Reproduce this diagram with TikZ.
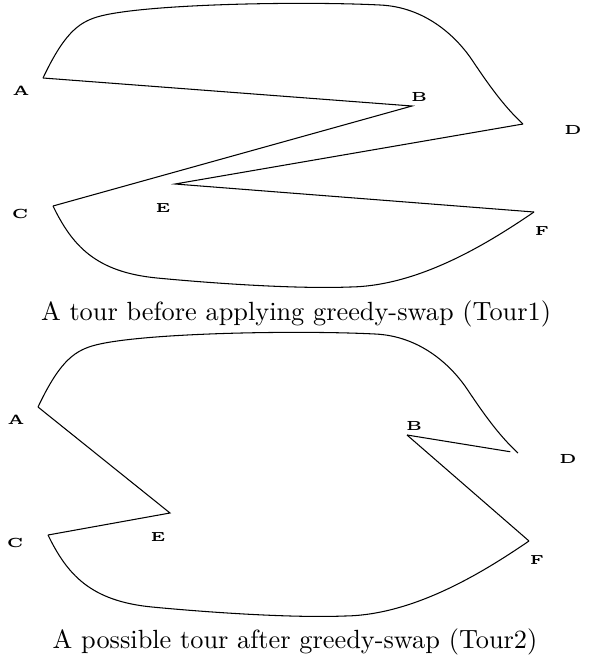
\documentclass[tikz,border=0pt]{standalone}
\usepackage{tikz}

\tikzset{
  city/.style={font=\tiny\bfseries,inner sep=0pt,xscale=1.15,transform shape},
  tourtitle/.style={anchor=base,inner sep=0pt}
}

\begin{document}
\begin{tikzpicture}[x=0.38pt,y=-0.38pt]
 \useasboundingbox (0,0) rectangle (591,658);
 % cities and the two fixed arcs, same in both tours
 \foreach \s/\dx/\dy in {1/0/0,2/-5/329} {
  \begin{scope}[shift={(\dx,\dy)}]
   \coordinate (A\s) at (43,78);
   \coordinate (B\s) at (412,106);
   \coordinate (C\s) at (53,206);
   \coordinate (D\s) at (523,124);
   \coordinate (E\s) at (175,184);
   \coordinate (F\s) at (534,212);
   \node[city] (lA\s) at (21,91) {A};
   \node[city] (lB\s) at (419,97) {B};
   \node[city] (lC\s) at (20,214) {C};
   \node[city] (lD\s) at (573,130) {D};
   \node[city] (lE\s) at (163,208) {E};
   \node[city] (lF\s) at (542,231) {F};
   \draw (A\s) .. controls (63,36) and (77,23) .. (97,17)
     .. controls (140,4) and (300,1) .. (380,5)
     .. controls (425,7) and (455,36) .. (470,57)
     .. controls (481,73) and (500,103) .. (D\s);
   \draw (C\s) .. controls (72,245) and (95,272) .. (157,278)
     .. controls (220,284) and (300,289) .. (350,287)
     .. controls (420,286) and (490,242) .. (F\s);
  \end{scope}
 }
 % Tour1
 \draw (A1) -- (B1) -- (C1);
 \draw (F1) -- (E1) -- (D1);
 \node[tourtitle] (t1) at (296,320) {A tour before applying greedy-swap (Tour1)};
 % Tour2
 \draw (A2) -- (E2) -- (C2);
 \draw (F2) -- (B2);
 \draw[shorten >=3pt] (B2) -- (D2);
 \node[tourtitle] (t2) at (295,648) {A possible tour after greedy-swap (Tour2)};
\end{tikzpicture}
\end{document}
